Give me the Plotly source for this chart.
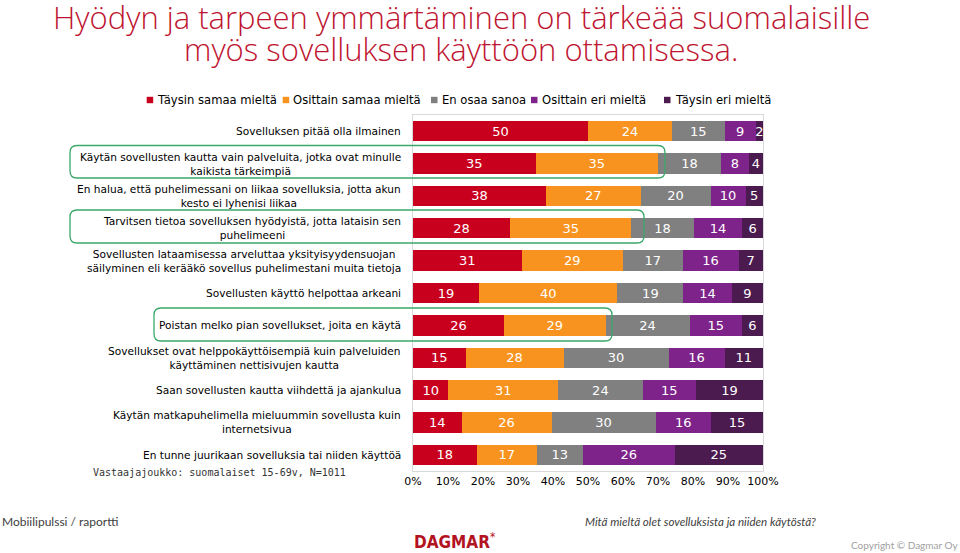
import plotly.graph_objects as go

categories = [
    "Sovelluksen pitää olla ilmainen",
    "Käytän sovellusten kautta vain palveluita, jotka ovat minulle<br>kaikista tärkeimpiä",
    "En halua, että puhelimessani on liikaa sovelluksia, jotta akun<br>kesto ei lyhenisi liikaa",
    "Tarvitsen tietoa sovelluksen hyödyistä, jotta lataisin sen<br>puhelimeeni",
    "Sovellusten lataamisessa arveluttaa yksityisyydensuojan<br>säilyminen eli kerääkö sovellus puhelimestani muita tietoja",
    "Sovellusten käyttö helpottaa arkeani",
    "Poistan melko pian sovellukset, joita en käytä",
    "Sovellukset ovat helppokäyttöisempiä kuin palveluiden<br>käyttäminen nettisivujen kautta",
    "Saan sovellusten kautta viihdettä ja ajankulua",
    "Käytän matkapuhelimella mieluummin sovellusta kuin<br>internetsivua",
    "En tunne juurikaan sovelluksia tai niiden käyttöä",
]
series_names = ["Täysin samaa mieltä", "Osittain samaa mieltä", "En osaa sanoa",
                "Osittain eri mieltä", "Täysin eri mieltä"]
taysin_samaa = [50, 35, 38, 28, 31, 19, 26, 15, 10, 14, 18]
osittain_samaa = [24, 35, 27, 35, 29, 40, 29, 28, 31, 26, 17]
en_osaa = [15, 18, 20, 18, 17, 19, 24, 30, 24, 30, 13]
osittain_eri = [9, 8, 10, 14, 16, 14, 15, 16, 15, 16, 26]
taysin_eri = [2, 4, 5, 6, 7, 9, 6, 11, 19, 15, 25]
tick_vals = [0, 10, 20, 30, 40, 50, 60, 70, 80, 90, 100]
tick_text = [f"{v}%" for v in tick_vals]

series_values = [taysin_samaa, osittain_samaa, en_osaa, osittain_eri, taysin_eri]
colors = ["#C8001E", "#F7931E", "#808080", "#7E2389", "#4B1A4E"]

W, H = 960, 553
L, R, T, B = 413, 763, 115, 471
legend_sq_x = [146.7, 282.7, 431, 531, 664]   # left edge of legend squares (px)
LEG_Y = 100


def px(x):
    return (x - L) / (R - L)


def py(y):
    return (B - y) / (B - T)


ids = list(range(len(categories)))
fig = go.Figure()
for name, vals, col in zip(series_names, series_values, colors):
    fig.add_trace(go.Bar(
        y=ids, x=vals, name=name, orientation="h",
        marker=dict(color=col, line=dict(width=0)),
        text=[str(v) for v in vals], textposition="inside",
        insidetextanchor="middle", textangle=0, constraintext="none",
        textfont=dict(color="white", size=13, family="DejaVu Sans"),
        cliponaxis=False, showlegend=False,
    ))

annotations = []
shapes = []
for i, c in enumerate(categories):
    annotations.append(dict(
        x=-0.028, xref="paper", y=i, yref="y", text=c, showarrow=False,
        xanchor="right", yanchor="middle", align="center",
        font=dict(size=10.6, family="DejaVu Sans", color="#000000")))

# manual legend
for name, col, sx in zip(series_names, colors, legend_sq_x):
    shapes.append(dict(type="rect", xref="paper", yref="paper",
                       x0=px(sx), x1=px(sx + 6.5), y0=py(LEG_Y - 3.2), y1=py(LEG_Y + 3.2),
                       fillcolor=col, line=dict(width=0)))
    annotations.append(dict(x=px(sx + 8.5), y=py(LEG_Y), xref="paper", yref="paper",
                            xanchor="left", yanchor="middle", text=name, showarrow=False,
                            font=dict(size=11.6, family="DejaVu Sans", color="#000000")))

annotations += [
    dict(x=px(461), y=py(17), xref="paper", yref="paper", xanchor="center", yanchor="middle",
         text="Hyödyn ja tarpeen ymmärtäminen on tärkeää suomalaisille", showarrow=False,
         font=dict(size=31, family="Open Sans", color="#BE1430", weight=300)),
    dict(x=px(461), y=py(49), xref="paper", yref="paper", xanchor="center", yanchor="middle",
         text="myös sovelluksen käyttöön ottamisessa.", showarrow=False,
         font=dict(size=31, family="Open Sans", color="#BE1430", weight=300)),
    dict(x=px(91), y=py(473), xref="paper", yref="paper", xanchor="left", yanchor="middle",
         text="Vastaajajoukko: suomalaiset 15-69v, N=1011", showarrow=False,
         font=dict(size=10, family="DejaVu Sans Mono", color="#333333")),
    dict(x=px(0), y=py(521), xref="paper", yref="paper", xanchor="left", yanchor="middle",
         text="Mobiilipulssi / raportti", showarrow=False,
         font=dict(size=12, family="Lato", color="#404040")),
    dict(x=px(583), y=py(521), xref="paper", yref="paper", xanchor="left", yanchor="middle",
         text="<i>Mitä mieltä olet sovelluksista ja niiden käytöstä?</i>", showarrow=False,
         font=dict(size=11.6, family="Lato", color="#404040")),
    dict(x=px(455), y=py(541), xref="paper", yref="paper", xanchor="center", yanchor="middle",
         text="<b>DAGMAR</b><sup>*</sup>", showarrow=False,
         font=dict(size=17, family="DejaVu Sans Condensed, DejaVu Sans", color="#B3121F")),
    dict(x=px(960), y=py(545), xref="paper", yref="paper", xanchor="right", yanchor="middle",
         text="Copyright © Dagmar Oy", showarrow=False,
         font=dict(size=10, family="Lato", color="#A0A0A0")),
]


def rounded(x0, y0, x1, y1, r=7):
    X0, X1 = px(x0), px(x1)
    Y0, Y1 = py(y0), py(y1)
    rx = r / (R - L)
    ry = r / (B - T)
    return (f"M {X0+rx},{Y0} L {X1-rx},{Y0} Q {X1},{Y0} {X1},{Y0-ry} "
            f"L {X1},{Y1+ry} Q {X1},{Y1} {X1-rx},{Y1} L {X0+rx},{Y1} "
            f"Q {X0},{Y1} {X0},{Y1+ry} L {X0},{Y0-ry} Q {X0},{Y0} {X0+rx},{Y0} Z")


for (a, b, c, d) in [(70, 145.5, 665, 178), (70, 210, 644, 243), (154, 308, 612, 341)]:
    shapes.append(dict(type="path", xref="paper", yref="paper", path=rounded(a, b, c, d),
                       line=dict(color="#3BA86A", width=1.3), fillcolor="rgba(0,0,0,0)"))

fig.update_layout(
    width=W, height=H,
    margin=dict(l=L, r=W - R, t=T, b=H - B, pad=0, autoexpand=False),
    barmode="stack", barnorm="percent", bargap=0.37,
    paper_bgcolor="white", plot_bgcolor="white",
    showlegend=False,
    xaxis=dict(range=[0, 100.001], tickvals=tick_vals, ticktext=tick_text, showgrid=False,
               zeroline=False, showline=True, linecolor="#D9D9D9", mirror=True,
               tickfont=dict(size=11, family="DejaVu Sans", color="#000000"), ticks=""),
    yaxis=dict(range=[len(categories) - 0.5, -0.5], showticklabels=False, showgrid=False,
               zeroline=False, showline=True, linecolor="#D9D9D9", mirror=True, ticks=""),
    annotations=annotations,
    shapes=shapes,
)

fig.write_html("out.html", config={"displayModeBar": False},
               post_script="document.body.style.margin='0';document.body.style.overflow='hidden';")
